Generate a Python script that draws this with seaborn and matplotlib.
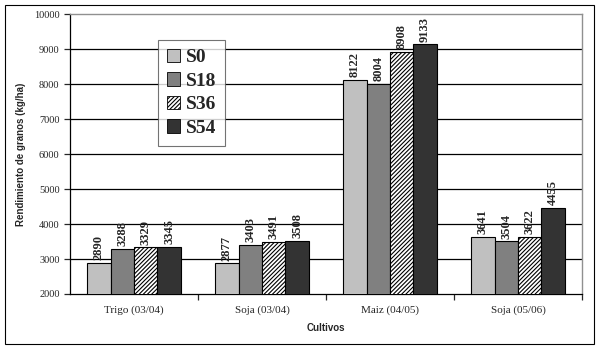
import matplotlib
matplotlib.use("Agg")
import matplotlib.pyplot as plt
import seaborn as sns
import pandas as pd
from matplotlib.patches import Rectangle, Patch

cultivos = ["Trigo (03/04)", "Soja (03/04)", "Maiz (04/05)", "Soja (05/06)"]
series = ["S0", "S18", "S36", "S54"]
s0 = [2890, 2877, 8122, 3641]
s18 = [3288, 3403, 8004, 3504]
s36 = [3329, 3491, 8908, 3622]
s54 = [3345, 3508, 9133, 4455]
colors = ["#c0c0c0", "#808080", "#ffffff", "#333333"]

rows = []
for name, vals in zip(series, [s0, s18, s36, s54]):
    for c, v in zip(cultivos, vals):
        rows.append({"Cultivos": c, "Serie": name, "Valor": v})
df = pd.DataFrame(rows)

sns.set_style("white")
plt.rcParams["hatch.linewidth"] = 0.8
fig = plt.figure(figsize=(6, 3.51), dpi=100)
ax = fig.add_axes([0.1167, 0.1624, 0.8533, 0.7976])

sns.barplot(data=df, x="Cultivos", y="Valor", hue="Serie", palette=colors,
            order=cultivos, hue_order=series, width=0.73, edgecolor="black",
            linewidth=0.8, ax=ax, legend=False, zorder=3)

for i, cont in enumerate(ax.containers):
    for bar in cont:
        if i == 2:
            bar.set_hatch("////////")
    labels = [str(v) for v in [s0, s18, s36, s54][i]]
    ax.bar_label(cont, labels=labels, rotation=90, padding=2,
                 fontsize=9, fontweight="bold", family="Liberation Serif")

ax.set_ylim(2000, 10000)
ax.set_xlim(-0.5, 3.5)
ax.set_yticks(range(2000, 10001, 1000))
for y in range(3000, 10000, 1000):
    ax.axhline(y, color="black", lw=0.9, zorder=1)
for s in ["top", "right"]:
    ax.spines[s].set_color("#909090")
    ax.spines[s].set_linewidth(1.0)
for s in ["left", "bottom"]:
    ax.spines[s].set_color("black")
    ax.spines[s].set_linewidth(0.9)

ax.set_xticks([0, 1, 2, 3])
ax.set_xticklabels(cultivos, family="Liberation Serif", fontsize=8)
ax.tick_params(axis="x", length=0, pad=8)
ax.set_xticks([0.5, 1.5, 2.5, 3.5], minor=True)
ax.tick_params(axis="x", which="minor", length=4, direction="out", width=0.9, bottom=True)
ax.tick_params(axis="y", length=4, direction="out", width=0.9, left=True, labelsize=7.5)
for t in ax.get_yticklabels():
    t.set_family("Liberation Serif")

ax.set_ylabel("Rendimiento de granos (kg/ha)", fontsize=7, fontweight="bold",
              family="Liberation Sans", labelpad=6)
ax.set_xlabel("Cultivos", fontsize=7, fontweight="bold", family="Liberation Sans", labelpad=6)

handles = []
for i, (name, col) in enumerate(zip(series, colors)):
    handles.append(Patch(facecolor=col, edgecolor="black", linewidth=0.6,
                         hatch="////////" if i == 2 else None, label=name))
leg = ax.legend(handles=handles, loc="upper left", bbox_to_anchor=(0.172, 0.907),
                frameon=True, fancybox=False, edgecolor="#505050",
                prop={"family": "Liberation Serif", "weight": "bold", "size": 14},
                handlelength=0.7, handleheight=0.7, handletextpad=0.3,
                labelspacing=0.3, borderpad=0.45, borderaxespad=0)
leg.get_frame().set_linewidth(0.8)
leg.set_zorder(5)

fig.patches.append(Rectangle((5 / 600, 7 / 351), 589 / 600, 339 / 351,
                             transform=fig.transFigure, fill=False,
                             edgecolor="black", linewidth=0.8))

fig.savefig("out.png", dpi=100)
